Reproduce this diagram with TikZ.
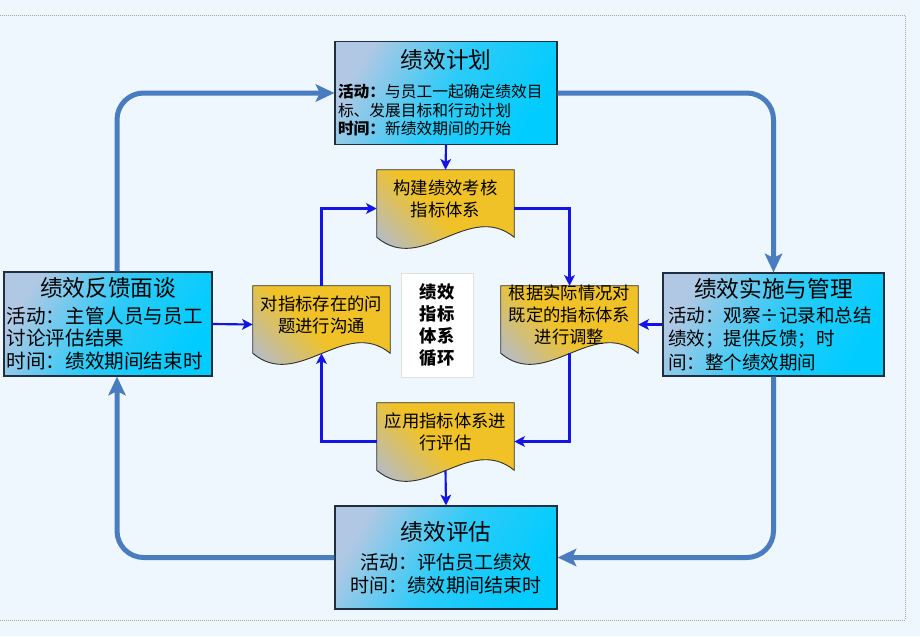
\documentclass[tikz,border=0pt]{standalone}
\usepackage{fontspec}
\usetikzlibrary{arrows.meta}
\newfontfamily\cjk{Noto Sans CJK SC}

\definecolor{pagebg}{HTML}{EEF6FE}
\definecolor{boxlight}{HTML}{B0C8E4}
\definecolor{boxcyan}{HTML}{00CCFF}
\definecolor{boxline}{HTML}{1F2F3F}
\definecolor{loopblue}{HTML}{4A7CC0}
\definecolor{linkblue}{HTML}{1414E6}
\definecolor{docyellow}{HTML}{F0C228}
\definecolor{docgray}{HTML}{B4BCC8}

\pgfdeclarelayer{paper}
\pgfdeclarelayer{docs}
\pgfsetlayers{paper,docs,main}

\tikzset{
  mainbox/.style={draw=boxline, line width=0.9pt, top color=boxlight,
    bottom color=boxcyan, middle color=boxcyan!75!boxlight, shading angle=60,
    minimum width=166.5pt, minimum height=77.25pt, inner xsep=2pt},
  docnode/.style={minimum width=102.75pt, minimum height=57.75pt, inner sep=0pt},
  doctext/.style={font=\cjk\fontsize{13}{16.5}\selectfont, align=center, yshift=7.5pt},
  docline/.style={draw=black!80, line width=0.7pt, top color=docyellow,
    bottom color=docgray, middle color=docyellow, shading angle=-45},
  corebox/.style={draw=black!12, fill=white, minimum width=54pt, minimum height=78pt,
    font=\cjk\bfseries\fontsize{13}{16.3}\selectfont, align=center},
  bigarrow/.style={draw=loopblue, line width=3.75pt, rounded corners=20pt,
    -{Stealth[length=14pt, width=13pt, inset=3pt]}},
  thinarrow/.style={draw=linkblue, line width=1.6pt,
    -{Stealth[length=8pt, width=8pt, inset=2pt]}}
}
\newcommand\stagetitle[1]{{\fontsize{17}{20}\selectfont #1}}

\begin{document}
\begin{tikzpicture}[x=0.75pt, y=-0.75pt]
  \useasboundingbox (0,0) rectangle (920,636);
  \begin{pgfonlayer}{paper}
    \fill[pagebg] (0,0) rectangle (920,636);
    \draw[densely dotted, black!35, line width=0.5pt] (0,15) -- (905,15) -- (905,620) -- (0,620);
  \end{pgfonlayer}

  % four stages of the cycle
  \node (plan) at (446,93) [mainbox, text width=162pt, align=left, font=\cjk\fontsize{11.8}{13.8}\selectfont]
    {\makebox[\hsize]{\stagetitle{绩效计划}}\\[8pt]
     \textbf{活动：}与员工一起确定绩效目\\标、发展目标和行动计划\\\textbf{时间：}新绩效期间的开始};
  \node (review) at (108,324) [mainbox, minimum width=156pt, minimum height=78pt, text width=152pt,
    align=left, font=\cjk\fontsize{14.7}{16.9}\selectfont]
    {\makebox[\hsize]{\stagetitle{绩效反馈面谈}}\\[3pt]
     活动：主管人员与员工\\讨论评估结果\\时间：绩效期间结束时};
  \node (act) at (773.5,324.5) [mainbox, minimum width=165.75pt, text width=158pt,
    align=left, font=\cjk\fontsize{13.9}{17.6}\selectfont]
    {\makebox[\hsize]{\stagetitle{绩效实施与管理}}\\[1pt]
     活动：观察÷记录和总结\\绩效；提供反馈；时\\间：整个绩效期间};
  \node (eval) at (446,557.5) [mainbox, align=center, font=\cjk\fontsize{14.3}{17.25}\selectfont]
    {\stagetitle{绩效评估}\\[4.5pt]
     活动：评估员工绩效\\时间：绩效期间结束时};

  % inner loop of the indicator system
  \node (dtop) at (445.5,208.5) [docnode, label={[doctext]center:{构建绩效考核\\指标体系}}] {};
  \node (dleft) at (321.5,324.5) [docnode, label={[doctext]center:{对指标存在的问\\题进行沟通}}] {};
  \node (dright) at (569.5,324.5) [docnode, label={[doctext]center:{根据实际情况对\\既定的指标体系\\进行调整}}] {};
  \node (dbot) at (445.5,441.5) [docnode, label={[doctext]center:{应用指标体系进\\行评估}}] {};
  \node (core) at (437,325) [corebox] {绩效\\指标\\体系\\循环};

  \begin{pgfonlayer}{docs}
    \foreach \d in {dtop,dleft,dright,dbot}
      \draw[docline] (\d.north west) -- (\d.north east) -- ([yshift=7.5pt]\d.south east)
        .. controls ([xshift=69pt,yshift=35.25pt]\d.south west) and ([xshift=33.75pt,yshift=-21pt]\d.south west)
        .. ([yshift=7.5pt]\d.south west) -- cycle;
  \end{pgfonlayer}

  \draw[bigarrow] (plan.east) -| (act.north);
  \draw[bigarrow] (act.south) |- (eval.east);
  \draw[bigarrow] (eval.west) -| ([xshift=6.75pt]review.south);
  \draw[bigarrow] ([xshift=6.75pt]review.north) |- (plan.west);

  \draw[thinarrow] (plan.south) -- (dtop.north);
  \draw[thinarrow] (dtop.east) -| (dright.north);
  \draw[thinarrow] ([yshift=7.5pt]dright.south) |- (dbot.east);
  \draw[thinarrow] (dbot.west) -| ([yshift=7.5pt]dleft.south);
  \draw[thinarrow] (dleft.north) |- (dtop.west);
  \draw[thinarrow] ([yshift=7.5pt]dbot.south) -- (eval.north);
  \draw[thinarrow] (review.east) -- (dleft.west);
  \draw[thinarrow] (act.west) -- (dright.east);
\end{tikzpicture}
\end{document}
